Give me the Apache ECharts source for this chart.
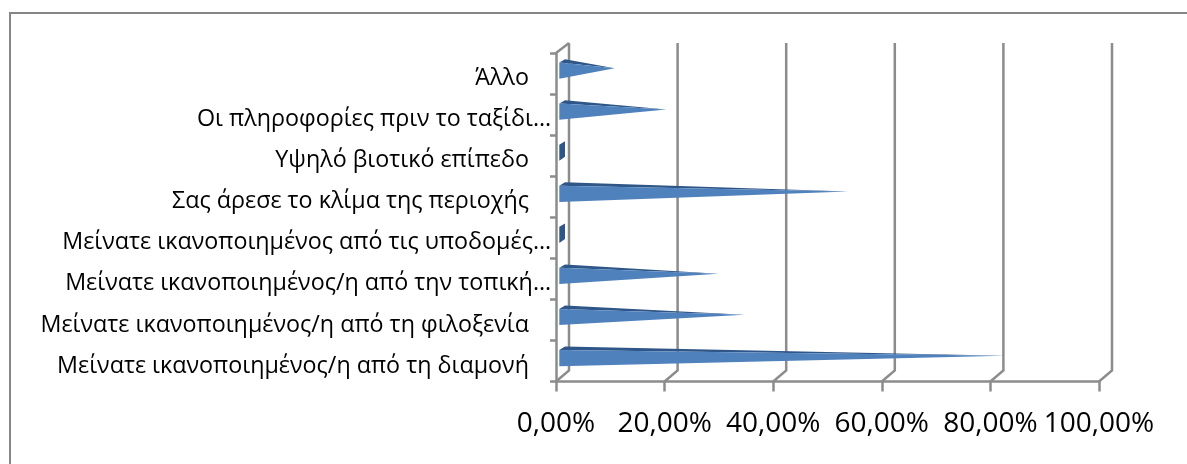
<!DOCTYPE html>
<html><head><meta charset="utf-8">
<style>html,body{margin:0;padding:0;background:#fff}#c{width:1187px;height:464px}</style>
<script src="https://cdn.jsdelivr.net/npm/echarts@6/dist/echarts.min.js"></script>
</head><body><div id="c"></div>
<script>
var categories = ['Μείνατε ικανοποιημένος/η από τη διαμονή\u00a0\u00a0\u00a0\u2009','Μείνατε ικανοποιημένος/η από τη φιλοξενία\u00a0\u00a0\u00a0\u2009','Μείνατε ικανοποιημένος/η από την τοπική…','Μείνατε ικανοποιημένος από τις υποδομές…','Σας άρεσε το κλίμα της περιοχής\u00a0\u00a0\u00a0\u2009','Υψηλό βιοτικό επίπεδο\u00a0\u00a0\u00a0\u2009','Οι πληροφορίες πριν το ταξίδι…','Άλλο\u00a0\u00a0\u00a0\u2009'];
var values = [81.4,33.5,28.7,0,52.6,0,19.1,9.6];
var ticks = [0,20,40,60,80,100];
var DX=13, DY=11, FONT='"Open Sans", sans-serif';
var chart = echarts.init(document.getElementById('c'));
chart.setOption({
  animation:false,
  backgroundColor:'#fff',
  graphic:[{type:'polyline',shape:{points:[[10,464],[10,13],[1187,13]]},style:{fill:'none',stroke:'#868686',lineWidth:2}}],
  grid:{left:556,right:88,top:53,bottom:82.5,containLabel:false},
  xAxis:{type:'value',min:0,max:100,interval:20,
    axisLine:{show:true,lineStyle:{color:'#8C8C8C',width:2.5}},
    axisTick:{show:true,length:10,lineStyle:{color:'#8C8C8C',width:2.5}},
    splitLine:{show:false},
    axisLabel:{formatter:function(v){return v.toFixed(2).replace('.',',')+'%'},fontFamily:FONT,fontSize:28,color:'#000',margin:29}},
  yAxis:{type:'category',data:categories,
    axisLine:{show:true,onZero:false,lineStyle:{color:'#8C8C8C',width:2.5}},
    axisTick:{show:true,length:6,lineStyle:{color:'#8C8C8C',width:2.5}},
    axisLabel:{fontFamily:FONT,fontSize:23.3,color:'#000',margin:5,interval:0,verticalAlign:'top',lineHeight:20,padding:[-5,0,0,0]}},
  series:[
   {type:'custom',silent:true,z:1,data:ticks.map(function(t){return [t]}),encode:{x:0},
    renderItem:function(p,api){
      var b=api.coord([api.value(0),0]), s=p.coordSys, top=s.y, bot=s.y+s.height, x=b[0];
      var st={stroke:'#8C8C8C',lineWidth:2.5,fill:'none'};
      var ch=[{type:'polyline',shape:{points:[[x,bot],[x+DX,bot-DY],[x+DX,top-DY+1]]},style:st}];
      if(api.value(0)===0) ch.push({type:'line',shape:{x1:x,y1:top,x2:x+DX,y2:top-DY+1},style:st});
      return {type:'group',children:ch};
    }},
   {type:'custom',silent:true,z:3,data:values.map(function(v,i){return [v,i]}),encode:{x:0,y:1},
    renderItem:function(p,api){
      var c0=api.coord([0,api.value(1)]), v=api.value(0), c=api.coord([v,api.value(1)]);
      var x=c0[0]+3.3, y=c0[1], yT=y-11, yB=y+5.2, bx=x+5.7, bT=yT-3.4;
      var dark='#2F5688', front='#4F81BD';
      if(v===0) return {type:'polygon',shape:{points:[[x,yT],[bx,bT],[bx,bT+15.6],[x,yB]]},style:{fill:'#2F5688'}};
      var tip=[c[0]+6.5,y-5.2];
      return {type:'group',children:[
        {type:'polygon',shape:{points:[[x,yT],[bx,bT],tip]},style:{fill:dark}},
        {type:'polygon',shape:{points:[[x,yT],[x,yB],tip]},style:{fill:front}}
      ]};
    }}
  ]
});
</script></body></html>
